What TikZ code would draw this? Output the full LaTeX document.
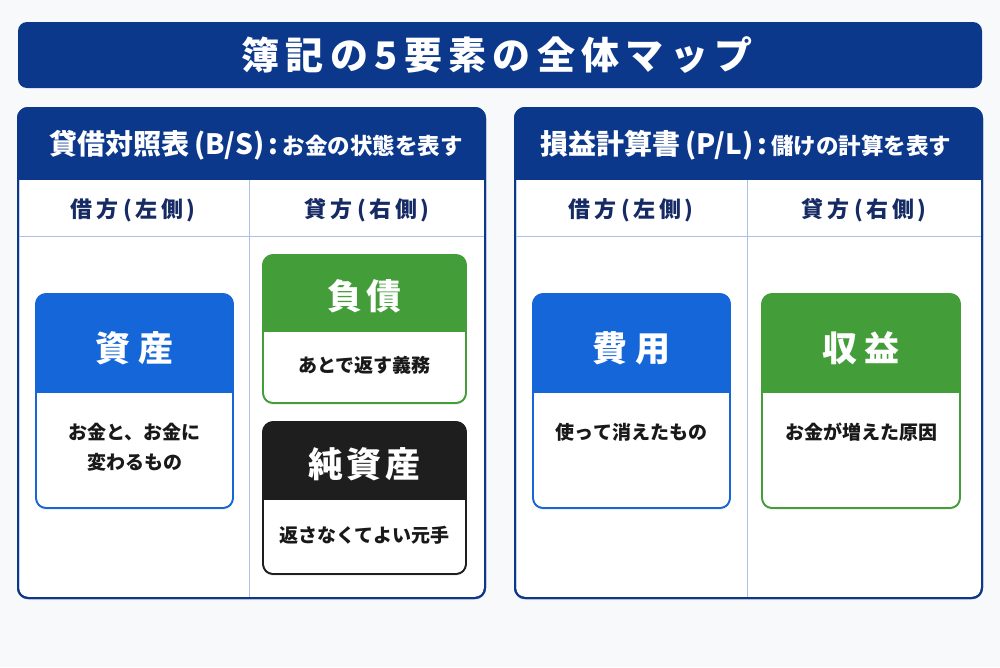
\documentclass[tikz,border=0pt]{standalone}
\usepackage{fontspec}
\setmainfont{Noto Sans CJK JP}
\usetikzlibrary{shadows}
\definecolor{bgc}{RGB}{248,249,251}
\definecolor{navy}{RGB}{12,56,140}
\definecolor{navytext}{RGB}{22,42,100}
\definecolor{cblue}{RGB}{21,102,216}
\definecolor{cgreen}{RGB}{67,158,58}
\definecolor{cblack}{RGB}{30,30,30}
\definecolor{divc}{RGB}{170,192,232}
\definecolor{bodyc}{RGB}{25,25,25}
\tikzset{
  panel/.style={draw=navy, line width=2pt, rounded corners=10pt, fill=white, inner sep=0pt,
    drop shadow={opacity=0.12, shadow xshift=0pt, shadow yshift=-2pt}},
  card/.style={line width=1.6pt, rounded corners=10pt, fill=white, inner sep=0pt,
    drop shadow={opacity=0.12, shadow xshift=0pt, shadow yshift=-2pt}},
  divline/.style={draw=divc, line width=1pt},
  cardtitle/.style={text=white, font=\fontsize{35}{40}\selectfont\bfseries},
  cardbody/.style={text=bodyc, font=\fontsize{19}{30}\selectfont\bfseries, align=center},
  colhead/.style={text=navytext, font=\fontsize{22}{26}\selectfont\bfseries},
  panelhead/.style={text=white, font=\bfseries},
}
\newcommand{\bigh}{\fontsize{28}{30}\selectfont}
\newcommand{\smallh}{\fontsize{22.5}{30}\selectfont}
\begin{document}
\begin{tikzpicture}[x=1pt,y=-1pt]
\useasboundingbox[fill=bgc] (0,0) rectangle (1000,667);

% Title bar
\node[fill=navy, rounded corners=9pt, minimum width=964pt, minimum height=66pt, inner sep=0pt] (titlebar) at (500,55) {};
\node[text=white, font=\fontsize{38}{44}\selectfont\bfseries] (title) at (497,55) {簿\,記\,の\,5\,要\,素\,の\,全\,体\,マ\,ッ\,プ};

% ===== Left panel (B/S) =====
\node[panel, minimum width=467pt, minimum height=490pt] (bs) at (251.5,353) {};
\begin{scope}
  \clip[rounded corners=10pt] (18,108) rectangle (485,598);
  \fill[navy] (18,108) rectangle (485,180);
\end{scope}
\draw[navy, line width=2pt, rounded corners=10pt] (18,108) rectangle (485,598);
\node[panelhead] (bshead) at (256,145) {{\bigh 貸借対照表\hspace{5pt}(B/S)\hspace{4pt}:\hspace{4pt}}{\smallh お金の状態を表す}};
\draw[divline] (19,236) -- (484,236);
\draw[divline] (249,180) -- (249,597);
\node[colhead] (bsdr) at (133,210) {借\,方\hspace{5pt}(\,左\,側\,)};
\node[colhead] (bscr) at (367,210) {貸\,方\hspace{5pt}(\,右\,側\,)};

% Assets card
\node[card, draw=cblue, minimum width=197pt, minimum height=214pt] (shisan) at (134.5,401) {};
\begin{scope}
  \clip[rounded corners=10pt] (36,294) rectangle (233,508);
  \fill[cblue] (36,294) rectangle (233,393);
\end{scope}
\draw[cblue, line width=1.6pt, rounded corners=10pt] (36,294) rectangle (233,508);
\node[cardtitle] (shisanT) at (134.5,348) {資\hspace{8pt}産};
\node[cardbody] (shisanB) at (134.5,447) {お金と、お金に\\変わるもの};

% Liabilities card
\node[card, draw=cgreen, minimum width=203pt, minimum height=148pt] (fusai) at (364.5,329) {};
\begin{scope}
  \clip[rounded corners=10pt] (263,255) rectangle (466,403);
  \fill[cgreen] (263,255) rectangle (466,332);
\end{scope}
\draw[cgreen, line width=1.6pt, rounded corners=10pt] (263,255) rectangle (466,403);
\node[cardtitle] (fusaiT) at (364.5,296) {負\hspace{4pt}債};
\node[cardbody] (fusaiB) at (364.5,365) {あとで返す義務};

% Net assets card
\node[card, draw=cblack, minimum width=203pt, minimum height=152pt] (jun) at (364.5,498) {};
\begin{scope}
  \clip[rounded corners=10pt] (263,422) rectangle (466,574);
  \fill[cblack] (263,422) rectangle (466,500);
\end{scope}
\draw[cblack, line width=1.6pt, rounded corners=10pt] (263,422) rectangle (466,574);
\node[cardtitle] (junT) at (364.5,464) {純\hspace{4pt}資\hspace{4pt}産};
\node[cardbody] (junB) at (364.5,535) {返さなくてよい元手};

% ===== Right panel (P/L) =====
\node[panel, minimum width=467pt, minimum height=490pt] (pl) at (748.5,353) {};
\begin{scope}
  \clip[rounded corners=10pt] (515,108) rectangle (982,598);
  \fill[navy] (515,108) rectangle (982,180);
\end{scope}
\draw[navy, line width=2pt, rounded corners=10pt] (515,108) rectangle (982,598);
\node[panelhead] (plhead) at (746,145) {{\bigh 損益計算書\hspace{5pt}(P/L)\hspace{4pt}:\hspace{4pt}}{\smallh 儲けの計算を表す}};
\draw[divline] (516,236) -- (981,236);
\draw[divline] (747,180) -- (747,597);
\node[colhead] (pldr) at (631,210) {借\,方\hspace{5pt}(\,左\,側\,)};
\node[colhead] (plcr) at (864,210) {貸\,方\hspace{5pt}(\,右\,側\,)};

% Expenses card
\node[card, draw=cblue, minimum width=197pt, minimum height=214pt] (hiyo) at (631.5,401) {};
\begin{scope}
  \clip[rounded corners=10pt] (533,294) rectangle (730,508);
  \fill[cblue] (533,294) rectangle (730,393);
\end{scope}
\draw[cblue, line width=1.6pt, rounded corners=10pt] (533,294) rectangle (730,508);
\node[cardtitle] (hiyoT) at (631.5,348) {費\hspace{8pt}用};
\node[cardbody] (hiyoB) at (631.5,432) {使って消えたもの};

% Revenue card
\node[card, draw=cgreen, minimum width=198pt, minimum height=214pt] (shueki) at (861,401) {};
\begin{scope}
  \clip[rounded corners=10pt] (762,294) rectangle (960,508);
  \fill[cgreen] (762,294) rectangle (960,393);
\end{scope}
\draw[cgreen, line width=1.6pt, rounded corners=10pt] (762,294) rectangle (960,508);
\node[cardtitle] (shuekiT) at (861,348) {収\hspace{8pt}益};
\node[cardbody] (shuekiB) at (861,432) {お金が増えた原因};
\end{tikzpicture}
\end{document}
